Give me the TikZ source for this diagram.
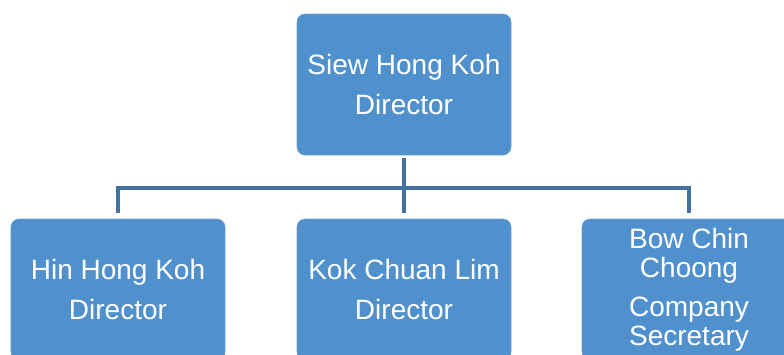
\documentclass[tikz,border=0pt]{standalone}
\usepackage{fontspec}
\setmainfont{Liberation Sans}
\definecolor{boxblue}{RGB}{80,145,205}
\definecolor{boxedge}{RGB}{110,160,210}
\definecolor{linkblue}{RGB}{65,113,156}
\tikzset{
  person/.style={draw=boxedge, line width=0.6bp, fill=boxblue, rounded corners=8bp,
    minimum width=214bp, minimum height=141bp, inner sep=0pt, text=white,
    align=center, font=\fontsize{28bp}{40bp}\selectfont},
  link/.style={draw=linkblue, line width=4.5bp}
}
\begin{document}
\begin{tikzpicture}[x=1bp, y=-1bp]
\useasboundingbox (0,0) rectangle (784,354);

%define coordinates
			\coordinate (bus) at (404,188);

%draw boxes
			\node[person] (siew) at (404,84.5) {Siew Hong Koh\\Director};
			\node[person] (hin) at (118,289.5) {Hin Hong Koh\\Director};
			\node[person] (kok) at (404,289.5) {Kok Chuan Lim\\Director};
			\node[person, font=\fontsize{28bp}{29bp}\selectfont] (bow) at (689,289.5)
				{Bow Chin\\Choong\\[10bp]Company\\Secretary};

%draw connectors
			\draw[link, shorten <=3bp] (siew.south) -- (siew.south |- bus);
			\draw[link, shorten <=6bp, shorten >=6bp] (hin.north) -- (hin.north |- bus)
				-- (bow.north |- bus) -- (bow.north);
			\draw[link, shorten >=6bp] (bus) -- (kok.north);

		\end{tikzpicture}
\end{document}
